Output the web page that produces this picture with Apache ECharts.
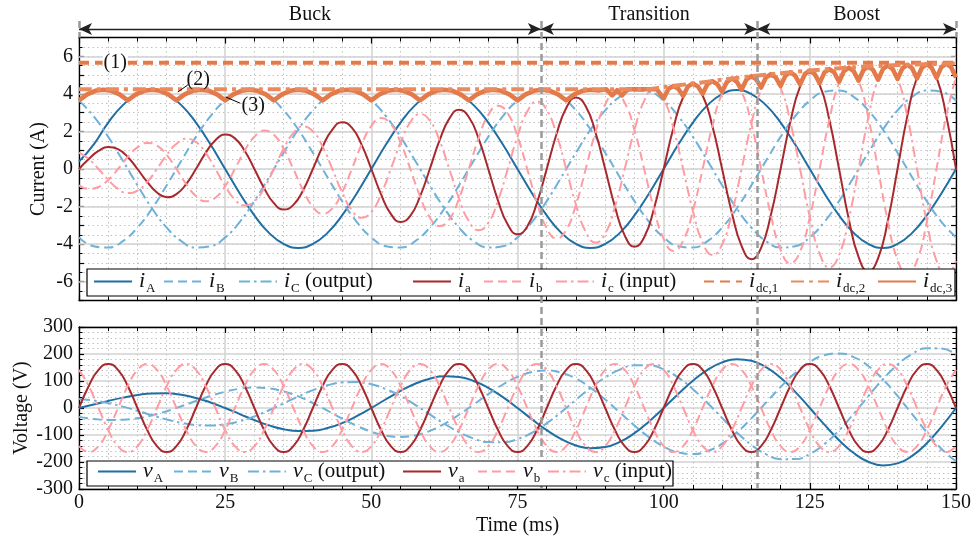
<!DOCTYPE html>
<html>
<head>
<meta charset="utf-8">
<script src="https://cdn.jsdelivr.net/npm/echarts@6/dist/echarts.min.js"></script>
<style>
html,body{margin:0;padding:0;background:#fff;}
#chart{width:978px;height:542px;}
</style>
</head>
<body>
<div id="chart"></div>
<script>
// ================= DATA =================
// time grids (ms)
const tOut = [0,2.5,5,7.5,10,12.5,15,17.5,20,22.5,25,27.5,30,32.5,35,37.5,40,42.5,45,47.5,50,52.5,55,57.5,60,62.5,65,67.5,70,72.5,75,77.5,80,82.5,85,87.5,90,92.5,95,97.5,100,102.5,105,107.5,110,112.5,115,117.5,120,122.5,125,127.5,130,132.5,135,137.5,140,142.5,145,147.5,150];
const tIn = [0,1.667,3.333,5,6.667,8.333,10,11.667,13.333,15,16.667,18.333,20,21.667,23.333,25,26.667,28.333,30,31.667,33.333,35,36.667,38.333,40,41.667,43.333,45,46.667,48.333,50,51.667,53.333,55,56.667,58.333,60,61.667,63.333,65,66.667,68.333,70,71.667,73.333,75,76.667,78.333,80,81.667,83.333,85,86.667,88.333,90,91.667,93.333,95,96.667,98.333,100,101.667,103.333,105,106.667,108.333,110,111.667,113.333,115,116.667,118.333,120,121.667,123.333,125,126.667,128.333,130,131.667,133.333,135,136.667,138.333,140,141.667,143.333,145,146.667,148.333,150];

// output currents (A), on tOut
const iA = [0.4,1.30,2.47,3.40,3.99,4.20,3.99,3.40,2.47,1.30,0,-1.30,-2.47,-3.40,-3.99,-4.20,-3.99,-3.40,-2.47,-1.30,
0,1.30,2.47,3.40,3.99,4.20,3.99,3.40,2.47,1.30,0,-1.30,-2.47,-3.40,-3.99,-4.20,-3.99,-3.40,-2.47,-1.30,
0,1.30,2.47,3.40,3.99,4.20,3.99,3.40,2.47,1.30,0,-1.30,-2.47,-3.40,-3.99,-4.20,-3.99,-3.40,-2.47,-1.30,0];
const iB = [-3.64,-4.11,-4.18,-3.84,-3.12,-2.10,-0.87,0.44,1.71,2.81,3.64,4.11,4.18,3.84,3.12,2.10,0.87,-0.44,-1.71,-2.81,
-3.64,-4.11,-4.18,-3.84,-3.12,-2.10,-0.87,0.44,1.71,2.81,3.64,4.11,4.18,3.84,3.12,2.10,0.87,-0.44,-1.71,-2.81,
-3.64,-4.11,-4.18,-3.84,-3.12,-2.10,-0.87,0.44,1.71,2.81,3.64,4.11,4.18,3.84,3.12,2.10,0.87,-0.44,-1.71,-2.81,-3.64];
const iC = [3.64,2.81,1.71,0.44,-0.87,-2.10,-3.12,-3.84,-4.18,-4.11,-3.64,-2.81,-1.71,-0.44,0.87,2.10,3.12,3.84,4.18,4.11,
3.64,2.81,1.71,0.44,-0.87,-2.10,-3.12,-3.84,-4.18,-4.11,-3.64,-2.81,-1.71,-0.44,0.87,2.10,3.12,3.84,4.18,4.11,
3.64,2.81,1.71,0.44,-0.87,-2.10,-3.12,-3.84,-4.18,-4.11,-3.64,-2.81,-1.71,-0.44,0.87,2.10,3.12,3.84,4.18,4.11,3.64];

// input currents (A), on tIn
const ia = [0,0.53,0.96,1.17,1.06,0.64,0,-0.69,-1.25,-1.50,-1.34,-0.80,
0,0.86,1.53,1.83,1.63,0.97,0,-1.02,-1.82,-2.16,-1.91,-1.13,
0,1.19,2.10,2.49,2.20,1.30,0,-1.35,-2.39,-2.82,-2.49,-1.46,
0,1.52,2.68,3.15,2.77,1.63,0,-1.68,-2.96,-3.48,-3.06,-1.79,
0,1.85,3.25,3.81,3.34,1.96,0,-2.01,-3.53,-4.14,-3.63,-2.12,
0,2.18,3.82,4.47,3.91,2.29,0,-2.34,-4.10,-4.80,-4.20,-2.45,
0,2.51,4.39,5.13,4.49,2.62,0,-2.67,-4.68,-5.45,-4.76,-2.77,
0,2.80,4.87,5.63,4.88,2.83,0];
const ib = [-0.87,-1.06,-0.96,-0.58,0,0.64,1.15,1.39,1.25,0.75,0,-0.80,
-1.44,-1.72,-1.53,-0.91,0,0.97,1.72,2.05,1.82,1.08,0,-1.13,
-2.01,-2.38,-2.10,-1.24,0,1.30,2.29,2.71,2.39,1.41,0,-1.46,
-2.58,-3.04,-2.68,-1.57,0,1.63,2.87,3.37,2.96,1.74,0,-1.79,
-3.15,-3.70,-3.25,-1.90,0,1.96,3.44,4.03,3.53,2.07,0,-2.12,
-3.72,-4.36,-3.82,-2.23,0,2.29,4.01,4.69,4.10,2.40,0,-2.45,
-4.30,-5.02,-4.39,-2.56,0,2.62,4.58,5.35,4.68,2.73,0,-2.77,
-4.83,-5.60,-4.87,-2.82,0,2.83,4.89];
const ic = [0.87,0.53,0,-0.58,-1.06,-1.28,-1.15,-0.69,0,0.75,1.34,1.61,
1.44,0.86,0,-0.91,-1.63,-1.94,-1.72,-1.02,0,1.08,1.91,2.27,
2.01,1.19,0,-1.24,-2.20,-2.60,-2.29,-1.35,0,1.41,2.49,2.93,
2.58,1.52,0,-1.57,-2.77,-3.26,-2.87,-1.68,0,1.74,3.06,3.59,
3.15,1.85,0,-1.90,-3.34,-3.92,-3.44,-2.01,0,2.07,3.63,4.25,
3.72,2.18,0,-2.23,-3.91,-4.58,-4.01,-2.34,0,2.40,4.20,4.91,
4.30,2.51,0,-2.56,-4.49,-5.24,-4.58,-2.67,0,2.73,4.76,5.54,
4.83,2.80,0,-2.82,-4.88,-5.65,-4.89];

// dc-link currents (A)
const idc1T = [0,150];
const idc1  = [5.65,5.65];
const idc2T = [0,97,100,105,110,115,120,125,130,135,140,145,150];
const idc2  = [4.25,4.25,4.36,4.55,4.75,4.94,5.10,5.24,5.36,5.46,5.53,5.58,5.62];
const idc3T = [0,1.39,2.78,4.17,5.56,6.94,8.33,9.72,11.11,12.5,13.89,15.28,16.67,18.06,19.44,20.83,22.22,23.61,
25,26.39,27.78,29.17,30.56,31.94,33.33,34.72,36.11,37.5,38.89,40.28,41.67,43.06,44.44,45.83,47.22,48.61,
50,51.39,52.78,54.17,55.56,56.94,58.33,59.72,61.11,62.5,63.89,65.28,66.67,68.06,69.44,70.83,72.22,73.61,
75,76.39,77.78,79.17,80.56,81.94,83.33,84.72,86.11,87.5,88.89,
90.2,91.2,92.05,92.9,93.8,98.8,
100,100.83,101.67,102.5,103.33,104.17,105,105.83,106.67,107.5,108.33,109.17,110,110.83,111.67,112.5,
113.33,114.17,115,115.83,116.67,117.5,118.33,119.17,120,120.83,121.67,122.5,123.33,124.17,125,125.83,
126.67,127.5,128.33,129.17,130,130.83,131.67,132.5,133.33,134.17,135,135.83,136.67,137.5,138.33,139.17,
140,140.83,141.67,142.5,143.33,144.17,145,145.83,146.67,147.5,148.33,149.17,150];
const idc3 = [3.65,3.97,4.16,4.22,4.16,3.97,3.65,3.97,4.16,4.22,4.16,3.97,3.65,3.97,4.16,4.22,4.16,3.97,
3.65,3.97,4.16,4.22,4.16,3.97,3.65,3.97,4.16,4.22,4.16,3.97,3.65,3.97,4.16,4.22,4.16,3.97,
3.65,3.97,4.16,4.22,4.16,3.97,3.65,3.97,4.16,4.22,4.16,3.97,3.65,3.97,4.16,4.22,4.16,3.97,
3.65,3.97,4.16,4.22,4.16,3.97,3.65,3.97,4.16,4.22,4.18,
4.24,3.92,4.20,3.92,4.24,4.25,
3.76,4.27,4.42,4.27,3.88,4.40,4.55,4.40,4.00,4.52,4.68,4.52,4.11,4.65,4.81,4.65,
4.22,4.77,4.94,4.77,4.33,4.88,5.05,4.88,4.42,4.97,5.15,4.97,4.50,5.06,5.24,5.06,
4.57,5.14,5.32,5.14,4.64,5.21,5.39,5.21,4.70,5.27,5.46,5.27,4.75,5.32,5.51,5.32,
4.79,5.36,5.55,5.36,4.82,5.39,5.58,5.39,4.85,5.42,5.61,5.42,4.87];

// output voltages (V), on tOut
const vA = [0,12.7,26.1,38.4,48.2,53.9,54.3,48.7,37.3,20.6,0,-22.5,-44.7,-64.2,-78.5,-85.6,-84.4,-74.4,-56,-30.4,
0,32.4,63.4,89.8,108.6,117.4,114.7,100.1,74.6,40.2,0,-42.1,-82.1,-115.5,-138.8,-149.1,-144.8,-125.8,-93.3,-50,
0,52,100.8,141.2,169,180.9,175.1,151.4,112,59.8,0,-61.8,-119.4,-166.9,-199.2,-212.6,-205.2,-177.2,-130.7,-69.6,0];
const vB = [-32.9,-40.3,-44.2,-43.4,-37.7,-27,-11.9,6.3,25.8,44.6,60.4,71.3,75.7,72.5,61.3,42.8,18.5,-9.7,-38.7,-65.8,
-87.9,-102.4,-107.4,-101.5,-84.9,-58.7,-25.1,13,51.6,87,115.4,133.4,138.9,130.5,108.5,74.6,31.7,-16.3,-64.6,-108.2,
-142.9,-164.5,-170.5,-159.5,-132,-90.5,-38.3,19.7,77.5,129.5,170.4,195.5,202.1,188.6,155.7,106.3,44.9,-23,-90.4,-150.7,-197.9];
const vC = [32.9,27.6,18.1,5,-10.5,-27,-42.4,-55,-63.1,-65.1,-60.4,-48.8,-31,-8.3,17.2,42.8,66,84.1,94.7,96.1,
87.9,70,43.9,11.7,-23.8,-58.7,-89.6,-113.1,-126.3,-127.2,-115.4,-91.3,-56.8,-15,30.4,74.6,113.2,142.1,157.9,158.2,
142.9,112.5,69.8,18.3,-37,-90.5,-136.8,-171.1,-189.4,-189.3,-170.4,-133.7,-82.7,-21.7,43.6,106.3,160.3,200.2,221.1,220.3,197.9];

// input voltages (V), on tIn
const va = [0,81.5,141.2,163,141.2,81.5,0,-81.5,-141.2,-163,-141.2,-81.5,
0,81.5,141.2,163,141.2,81.5,0,-81.5,-141.2,-163,-141.2,-81.5,
0,81.5,141.2,163,141.2,81.5,0,-81.5,-141.2,-163,-141.2,-81.5,
0,81.5,141.2,163,141.2,81.5,0,-81.5,-141.2,-163,-141.2,-81.5,
0,81.5,141.2,163,141.2,81.5,0,-81.5,-141.2,-163,-141.2,-81.5,
0,81.5,141.2,163,141.2,81.5,0,-81.5,-141.2,-163,-141.2,-81.5,
0,81.5,141.2,163,141.2,81.5,0,-81.5,-141.2,-163,-141.2,-81.5,
0,81.5,141.2,163,141.2,81.5,0];
const vb = [-141.2,-163,-141.2,-81.5,0,81.5,141.2,163,141.2,81.5,0,-81.5,
-141.2,-163,-141.2,-81.5,0,81.5,141.2,163,141.2,81.5,0,-81.5,
-141.2,-163,-141.2,-81.5,0,81.5,141.2,163,141.2,81.5,0,-81.5,
-141.2,-163,-141.2,-81.5,0,81.5,141.2,163,141.2,81.5,0,-81.5,
-141.2,-163,-141.2,-81.5,0,81.5,141.2,163,141.2,81.5,0,-81.5,
-141.2,-163,-141.2,-81.5,0,81.5,141.2,163,141.2,81.5,0,-81.5,
-141.2,-163,-141.2,-81.5,0,81.5,141.2,163,141.2,81.5,0,-81.5,
-141.2,-163,-141.2,-81.5,0,81.5,141.2];
const vc = [141.2,81.5,0,-81.5,-141.2,-163,-141.2,-81.5,0,81.5,141.2,163,
141.2,81.5,0,-81.5,-141.2,-163,-141.2,-81.5,0,81.5,141.2,163,
141.2,81.5,0,-81.5,-141.2,-163,-141.2,-81.5,0,81.5,141.2,163,
141.2,81.5,0,-81.5,-141.2,-163,-141.2,-81.5,0,81.5,141.2,163,
141.2,81.5,0,-81.5,-141.2,-163,-141.2,-81.5,0,81.5,141.2,163,
141.2,81.5,0,-81.5,-141.2,-163,-141.2,-81.5,0,81.5,141.2,163,
141.2,81.5,0,-81.5,-141.2,-163,-141.2,-81.5,0,81.5,141.2,163,
141.2,81.5,0,-81.5,-141.2,-163,-141.2];

// operating modes (ms)
const modeBounds = [0, 79, 116, 150];
const modeNames = ['Buck', 'Transition', 'Boost'];
// axis tick labels
const xTicks = [0, 25, 50, 75, 100, 125, 150];
const yCurTicks = [-6, -4, -2, 0, 2, 4, 6];
const yVolTicks = [-300, -200, -100, 0, 100, 200, 300];
// curve annotations
const noteNames = ['(1)', '(2)', '(3)'];
const notePos = [[6.2, 5.64], [20.4, 4.74], [29.8, 3.35]];
const leaderLines = [[[16.9, 4.1], [18.6, 4.47]], [[25.1, 3.83], [27.6, 3.5]]];

// ================= CHART =================
const F = 'Liberation Serif';
const TXT = '#111';
const C_DB = '#1f6fa3', C_LB = '#6fb1d9', C_DR = '#a7282d', C_PK = '#ff9ca3', C_OR = '#e4794a';
const DASH = [9, 5], DASHDOT = [11, 4, 2.5, 4];
const GRID_SOLID = '#d2d2d2', GRID_DOT = '#c2c2c2';

const pairs = (xs, ys) => xs.map((x, i) => [x, ys[i]]);

function xAx(gi, pos, labels, extra) {
  const bottom = pos === 'bottom';
  return Object.assign({
    type: 'value', gridIndex: gi, position: pos, min: xTicks[0], max: xTicks[xTicks.length - 1], interval: 25,
    axisLine: { show: true, onZero: false, lineStyle: { color: '#000', width: 1.3 } },
    axisTick: { show: true, inside: true, length: 6, lineStyle: { color: '#000', width: 1.2 } },
    minorTick: { show: true, splitNumber: 5, length: 4, lineStyle: { color: '#000', width: 1 } },
    axisLabel: { show: labels, fontFamily: F, fontSize: 20, color: TXT, margin: 4 },
    splitLine: { show: bottom, lineStyle: { color: GRID_SOLID, width: 1.5 } },
    minorSplitLine: { show: bottom, lineStyle: { color: GRID_DOT, width: 1, type: [1.5, 3] } }
  }, extra || {});
}
function yAx(gi, pos, min, max, interval, minorSplit, labels, extra) {
  const left = pos === 'left';
  return Object.assign({
    type: 'value', gridIndex: gi, position: pos, min: min, max: max, interval: interval,
    axisLine: { show: true, onZero: false, lineStyle: { color: '#000', width: 1.3 } },
    axisTick: { show: true, inside: true, length: 5, lineStyle: { color: '#000', width: 1.2 } },
    minorTick: { show: true, splitNumber: minorSplit, length: 3.5, lineStyle: { color: '#000', width: 1 } },
    axisLabel: { show: labels, fontFamily: F, fontSize: 20, color: TXT, margin: 6 },
    splitLine: { show: left, lineStyle: { color: GRID_SOLID, width: 1.5 } },
    minorSplitLine: { show: left, lineStyle: { color: GRID_DOT, width: 1, type: [1.5, 3] } }
  }, extra || {});
}

const xAxis = [
  xAx(0, 'bottom', false),
  xAx(0, 'top', false),
  xAx(1, 'bottom', true, { name: 'Time (ms)', nameLocation: 'middle', nameGap: 27,
    nameTextStyle: { fontFamily: F, fontSize: 20, color: TXT } }),
  xAx(1, 'top', false),
  { type: 'value', gridIndex: 2, min: 0, max: 150, show: false }
];
const yAxis = [
  yAx(0, 'left', -7, 7, 1, 2, true, {
    axisLabel: { fontFamily: F, fontSize: 20, color: TXT, margin: 6,
      formatter: v => (yCurTicks.indexOf(v) >= 0 ? String(v) : '') },
    splitLine: { show: true, lineStyle: { color: GRID_DOT, width: 1, type: [1.5, 3] } },
    name: 'Current (A)', nameLocation: 'middle', nameGap: 30, nameMoveOverlap: false,
    nameTextStyle: { fontFamily: F, fontSize: 20, color: TXT } }),
  yAx(0, 'right', -7, 7, 1, 2, false),
  yAx(1, 'left', yVolTicks[0], yVolTicks[yVolTicks.length - 1], 100, 5, true, {
    name: 'Voltage (V)', nameLocation: 'middle', nameGap: 47, nameMoveOverlap: false,
    nameTextStyle: { fontFamily: F, fontSize: 20, color: TXT } }),
  yAx(1, 'right', yVolTicks[0], yVolTicks[yVolTicks.length - 1], 100, 5, false),
  // overlay axis: same scale as the current axis, extended over the whole canvas height
  { type: 'value', gridIndex: 2, min: -19.855, max: 8.996, show: false }
];

function line(name, xs, ys, color, type, width, xi, yi, extra) {
  return Object.assign({
    name: name, type: 'line', xAxisIndex: xi, yAxisIndex: yi, data: pairs(xs, ys),
    symbol: 'none', showSymbol: false, smooth: true, animation: false,
    lineStyle: { color: color, type: type, width: width, cap: 'butt' },
    itemStyle: { color: color }, z: 2
  }, extra || {});
}
const noEmph = { disabled: true };

const series = [
  // solid major gridlines of the current axis (even values)
  { type: 'line', xAxisIndex: 0, yAxisIndex: 0, data: [], z: 1, silent: true,
    markLine: { z: 1, silent: true, symbol: ['none', 'none'], label: { show: false }, animation: false,
      lineStyle: { color: GRID_SOLID, width: 1.5, type: 'solid' }, emphasis: noEmph,
      data: yCurTicks.map(v => ({ yAxis: v })) } },
  line('iA', tOut, iA, C_DB, 'solid', 2, 0, 0),
  line('iB', tOut, iB, C_LB, DASH, 2, 0, 0),
  line('iC', tOut, iC, C_LB, DASHDOT, 2, 0, 0),
  line('ia', tIn, ia, C_DR, 'solid', 2, 0, 0),
  line('ib', tIn, ib, C_PK, DASH, 2, 0, 0),
  line('ic', tIn, ic, C_PK, DASHDOT, 2, 0, 0),
  line('idc1', idc1T, idc1, C_OR, [10, 6], 4, 0, 0, { smooth: false }),
  line('idc3', idc3T, idc3, C_OR, 'solid', 4.5, 0, 0, { smooth: false, lineStyle: { color: C_OR, width: 4.5, join: 'round' } }),
  line('idc2', idc2T, idc2, '#ea8a5f', [13, 5, 4, 5], 4, 0, 0, { smooth: 0.3 }),
  line('vA', tOut, vA, C_DB, 'solid', 2, 2, 2),
  line('vB', tOut, vB, C_LB, DASH, 2, 2, 2),
  line('vC', tOut, vC, C_LB, DASHDOT, 2, 2, 2),
  line('va', tIn, va, C_DR, 'solid', 2, 2, 2),
  line('vb', tIn, vb, C_PK, DASH, 2, 2, 2),
  line('vc', tIn, vc, C_PK, DASHDOT, 2, 2, 2),
  // curve notes (1)(2)(3) with leader lines
  { type: 'scatter', xAxisIndex: 0, yAxisIndex: 0, symbolSize: 0, z: 2.6, silent: true,
    itemStyle: { color: '#000', opacity: 1 }, emphasis: noEmph,
    data: noteNames.map((n, i) => ({ name: n, value: notePos[i],
      label: i === 0 ? { backgroundColor: '#fff', padding: [0, 1] } : {} })),
    label: { show: true, position: 'inside', formatter: '{b}', fontFamily: F, fontSize: 20, color: TXT,
      textBorderWidth: 0, opacity: 1 },
    markLine: { z: 2.6, silent: true, symbol: ['none', 'none'], label: { show: false }, animation: false,
      lineStyle: { color: '#000', width: 1, type: 'solid' }, emphasis: noEmph,
      data: leaderLines.map(s => [{ coord: s[0] }, { coord: s[1] }]) } },
  // mode arrows
  { type: 'line', xAxisIndex: 4, yAxisIndex: 4, data: [], z: 2.5, silent: true,
    markLine: { z: 2.5, silent: true, symbol: ['arrow', 'arrow'], symbolSize: [9, 13], label: { show: false }, animation: false,
      lineStyle: { color: '#222', width: 1.3, type: 'solid' }, itemStyle: { color: '#222' }, emphasis: noEmph,
      data: modeNames.map((n, i) => [{ coord: [modeBounds[i], 7.45] }, { coord: [modeBounds[i + 1], 7.45] }]) } },
  // mode boundaries (dashed, through both panels)
  { type: 'line', xAxisIndex: 4, yAxisIndex: 4, data: [], z: 2.5, silent: true,
    markLine: { z: 2.5, silent: true, symbol: ['none', 'none'], label: { show: false }, animation: false,
      lineStyle: { color: '#9a9a9a', width: 2.5, type: [7, 4] }, emphasis: noEmph,
      data: modeBounds.map((b, i) => [{ coord: [b, 7.88] },
        { coord: [b, (i === 0 || i === modeBounds.length - 1) ? 7 : -17.03] }]) } },
  // mode names
  { type: 'scatter', xAxisIndex: 4, yAxisIndex: 4, symbolSize: 0, z: 2.6, silent: true,
    itemStyle: { color: '#000', opacity: 1 }, emphasis: noEmph,
    data: modeNames.map((n, i) => ({ name: n, value: [(modeBounds[i] + modeBounds[i + 1]) / 2, 8.2] })),
    label: { show: true, position: 'inside', formatter: '{b}', fontFamily: F, fontSize: 20, color: TXT,
      textBorderWidth: 0, opacity: 1 } }
];

// legends
const RICH = {
  it: { fontFamily: F, fontStyle: 'italic', fontSize: 22, color: TXT, lineHeight: 24 },
  sub: { fontFamily: F, fontSize: 13, color: TXT, lineHeight: 13, padding: [14, 0, 0, 1] },
  txt: { fontFamily: F, fontSize: 21, color: TXT, lineHeight: 24 }
};
const LBL = {
  iA: '{it|i}{sub|A}', iB: '{it|i}{sub|B}', iC: '{it|i}{sub|C}{txt| (output)}',
  ia: '{it|i}{sub|a}', ib: '{it|i}{sub|b}', ic: '{it|i}{sub|c}{txt| (input)}',
  idc1: '{it|i}{sub|dc,1}', idc2: '{it|i}{sub|dc,2}', idc3: '{it|i}{sub|dc,3}',
  vA: '{it|v}{sub|A}', vB: '{it|v}{sub|B}', vC: '{it|v}{sub|C}{txt| (output)}',
  va: '{it|v}{sub|a}', vb: '{it|v}{sub|b}', vc: '{it|v}{sub|c}{txt| (input)}'
};
const legendTop = [['iA', 93], ['iB', 163], ['iC', 238], ['ia', 412], ['ib', 483], ['ic', 555],
  ['idc1', 703], ['idc2', 790], ['idc3', 877]];
const legendBot = [['vA', 97], ['vB', 173], ['vC', 247], ['va', 402], ['vb', 477], ['vc', 547]];
function lg(item, top) {
  return { left: item[1], top: top, padding: 0, itemGap: 0, itemWidth: 38, itemHeight: 14,
    data: [item[0]], selectedMode: false, formatter: n => LBL[n], z: 6,
    itemStyle: { opacity: 0, borderWidth: 0 },
    lineStyle: { opacity: 1 },
    textStyle: { rich: RICH, padding: [0, 0, 0, 2] } };
}
const legend = legendTop.map(it => lg(it, 268)).concat(legendBot.map(it => lg(it, 458)));

const option = {
  animation: false,
  backgroundColor: '#fff',
  grid: [
    { left: 79, top: 37.5, width: 877, height: 263, containLabel: false },
    { left: 79, top: 327, width: 877, height: 162, containLabel: false },
    { left: 79, top: 0, width: 877, height: 542, containLabel: false }
  ],
  xAxis: xAxis,
  yAxis: yAxis,
  legend: legend,
  graphic: [
    { type: 'rect', z: 4, shape: { x: 87, y: 269, width: 868, height: 27 },
      style: { fill: '#fff', stroke: '#000', lineWidth: 1.2 } },
    { type: 'rect', z: 4, shape: { x: 87, y: 461, width: 586, height: 25 },
      style: { fill: '#fff', stroke: '#000', lineWidth: 1.2 } }
  ],
  series: series
};
const chart = echarts.init(document.getElementById('chart'), null, { renderer: 'canvas' });
chart.setOption(option);
</script>
</body>
</html>
